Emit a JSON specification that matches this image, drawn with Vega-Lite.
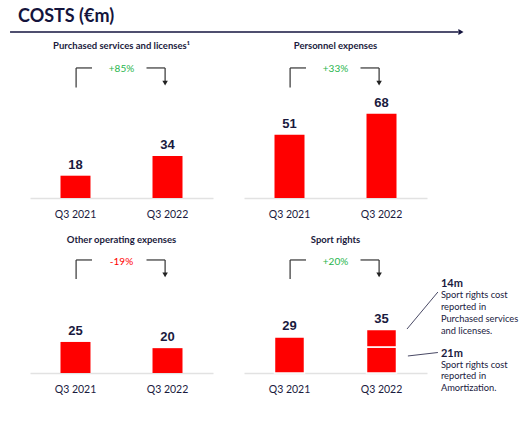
{
  "$schema": "https://vega.github.io/schema/vega-lite/v6.json",
  "background": "white",
  "padding": {"left": 9, "top": 7, "right": 3, "bottom": 5},
  "datasets": {
    "costs": [
      {"panel": "Purchased services and licenses¹", "period": "Q3 2021", "part": "Total", "value": 18},
      {"panel": "Purchased services and licenses¹", "period": "Q3 2022", "part": "Total", "value": 34},
      {"panel": "Personnel expenses", "period": "Q3 2021", "part": "Total", "value": 51},
      {"panel": "Personnel expenses", "period": "Q3 2022", "part": "Total", "value": 68},
      {"panel": "Other operating expenses", "period": "Q3 2021", "part": "Total", "value": 25},
      {"panel": "Other operating expenses", "period": "Q3 2022", "part": "Total", "value": 20},
      {"panel": "Sport rights", "period": "Q3 2021", "part": "Total", "value": 29},
      {"panel": "Sport rights", "period": "Q3 2022", "part": "Amortization", "value": 21},
      {"panel": "Sport rights", "period": "Q3 2022", "part": "Purchased services and licenses", "value": 14}
    ],
    "changes": [
      {"panel": "Purchased services and licenses¹", "change": "+85%"},
      {"panel": "Personnel expenses", "change": "+33%"},
      {"panel": "Other operating expenses", "change": "-19%"},
      {"panel": "Sport rights", "change": "+20%"}
    ],
    "notes": [
      {"part": "Purchased services and licenses", "amount": "14m", "desc": ["Sport rights cost", "reported in", "Purchased services", "and licenses."]},
      {"part": "Amortization", "amount": "21m", "desc": ["Sport rights cost", "reported in", "Amortization."]}
    ]
  },
  "config": {
    "view": {"stroke": null},
    "font": "Lato",
    "title": {"font": "Lato", "fontSize": 9.5, "fontWeight": "bold", "color": "#1b1b3d", "baseline": "alphabetic", "anchor": "middle", "frame": "group"},
    "axisX": {"domainColor": "#e2e2e2", "domainWidth": 1.5, "ticks": false, "labelFont": "Lato", "labelFontSize": 10.5, "labelColor": "#1a1a3e", "labelPadding": 11, "labelAngle": 0, "grid": false, "title": null}
  },
  "bounds": "flush",
  "columns": 2,
  "spacing": {"row": 31, "column": 31},
  "concat": [
    {
      "width": 183,
      "height": 5,
      "title": {"text": "COSTS (€m)", "anchor": "start", "frame": "group", "fontSize": 18, "fontWeight": "bold", "dx": -12, "offset": 1.5, "color": "#14143c"},
      "data": {"values": [{}]},
      "layer": [
        {
          "mark": {"type": "rule", "color": "#15153f", "strokeWidth": 1.5},
          "encoding": {
            "x": {"datum": -0.109, "type": "quantitative", "scale": {"domain": [0, 1], "nice": false}, "axis": null},
            "x2": {"datum": 2.34},
            "y": {"datum": 0, "type": "quantitative", "scale": {"domain": [0, 1], "nice": false}, "axis": null}
          }
        },
        {
          "mark": {"type": "point", "shape": "triangle-right", "filled": true, "size": 35, "color": "#15153f", "opacity": 1},
          "encoding": {
            "x": {"datum": 2.355, "type": "quantitative"},
            "y": {"datum": 0, "type": "quantitative"}
          }
        }
      ]
    },
    {
      "width": 183,
      "height": 5,
      "data": {"values": []},
      "mark": "point",
      "encoding": {}
    },
    {
      "width": 183,
      "height": 161,
      "title": {"text": "Purchased services and licenses¹", "offset": 12.5},
      "layer": [
        {
          "data": {"name": "costs"},
          "transform": [{"filter": {"field": "panel", "equal": "Purchased services and licenses¹"}}],
          "mark": {"type": "bar", "color": "#ff0000"},
          "encoding": {
            "x": {"field": "period", "type": "nominal", "scale": {"paddingInner": 0.674, "paddingOuter": 0.3315}, "axis": {"offset": -26}},
            "y": {"field": "value", "type": "quantitative", "scale": {"domain": [-21, 109], "nice": false}, "axis": null}
          }
        },
        {
          "data": {"name": "costs"},
          "transform": [{"filter": {"field": "panel", "equal": "Purchased services and licenses¹"}}, {"aggregate": [{"op": "sum", "field": "value", "as": "total"}], "groupby": ["period"]}],
          "mark": {"type": "text", "font": "Liberation Sans", "fontWeight": "bold", "fontSize": 13, "color": "#1a1a3e", "baseline": "alphabetic", "dy": -7},
          "encoding": {
            "x": {"field": "period", "type": "nominal"},
            "y": {"field": "total", "type": "quantitative"},
            "text": {"field": "total", "type": "quantitative"}
          }
        },
        {
          "data": {"name": "changes"},
          "transform": [{"filter": {"field": "panel", "equal": "Purchased services and licenses¹"}}],
          "layer": [
            {"mark": {"type": "rule", "color": "#333333", "strokeWidth": 1.2}, "encoding": {"x": {"datum": "Q3 2021", "bandPosition": 0.52}, "y": {"datum": 89.2, "type": "quantitative"}, "y2": {"datum": 105}}},
            {"mark": {"type": "rule", "color": "#333333", "strokeWidth": 1.2}, "encoding": {"x": {"datum": "Q3 2021", "bandPosition": 0.52}, "x2": {"datum": "Q3 2021", "bandPosition": 1.05}, "y": {"datum": 105, "type": "quantitative"}}},
            {"mark": {"type": "rule", "color": "#333333", "strokeWidth": 1.2}, "encoding": {"x": {"datum": "Q3 2022", "bandPosition": -0.2}, "x2": {"datum": "Q3 2022", "bandPosition": 0.42}, "y": {"datum": 105, "type": "quantitative"}}},
            {"mark": {"type": "rule", "color": "#333333", "strokeWidth": 1.2}, "encoding": {"x": {"datum": "Q3 2022", "bandPosition": 0.42}, "y": {"datum": 105, "type": "quantitative"}, "y2": {"datum": 93}}},
            {"mark": {"type": "point", "shape": "triangle-down", "filled": true, "size": 30, "color": "#222222", "opacity": 1}, "encoding": {"x": {"datum": "Q3 2022", "bandPosition": 0.42}, "y": {"datum": 92.7, "type": "quantitative"}}},
            {"mark": {"type": "text", "fontSize": 10, "color": "#27b54d", "baseline": "middle"}, "encoding": {"y": {"datum": 104.5, "type": "quantitative"}, "text": {"field": "change"}}}
          ]
        }
      ]
    },
    {
      "width": 183,
      "height": 161,
      "title": {"text": "Personnel expenses", "offset": 12.5},
      "layer": [
        {
          "data": {"name": "costs"},
          "transform": [{"filter": {"field": "panel", "equal": "Personnel expenses"}}],
          "mark": {"type": "bar", "color": "#ff0000"},
          "encoding": {
            "x": {"field": "period", "type": "nominal", "scale": {"paddingInner": 0.674, "paddingOuter": 0.3315}, "axis": {"offset": -26}},
            "y": {"field": "value", "type": "quantitative", "scale": {"domain": [-21, 109], "nice": false}, "axis": null}
          }
        },
        {
          "data": {"name": "costs"},
          "transform": [{"filter": {"field": "panel", "equal": "Personnel expenses"}}, {"aggregate": [{"op": "sum", "field": "value", "as": "total"}], "groupby": ["period"]}],
          "mark": {"type": "text", "font": "Liberation Sans", "fontWeight": "bold", "fontSize": 13, "color": "#1a1a3e", "baseline": "alphabetic", "dy": -7},
          "encoding": {
            "x": {"field": "period", "type": "nominal"},
            "y": {"field": "total", "type": "quantitative"},
            "text": {"field": "total", "type": "quantitative"}
          }
        },
        {
          "data": {"name": "changes"},
          "transform": [{"filter": {"field": "panel", "equal": "Personnel expenses"}}],
          "layer": [
            {"mark": {"type": "rule", "color": "#333333", "strokeWidth": 1.2}, "encoding": {"x": {"datum": "Q3 2021", "bandPosition": 0.52}, "y": {"datum": 89.2, "type": "quantitative"}, "y2": {"datum": 105}}},
            {"mark": {"type": "rule", "color": "#333333", "strokeWidth": 1.2}, "encoding": {"x": {"datum": "Q3 2021", "bandPosition": 0.52}, "x2": {"datum": "Q3 2021", "bandPosition": 1.05}, "y": {"datum": 105, "type": "quantitative"}}},
            {"mark": {"type": "rule", "color": "#333333", "strokeWidth": 1.2}, "encoding": {"x": {"datum": "Q3 2022", "bandPosition": -0.2}, "x2": {"datum": "Q3 2022", "bandPosition": 0.42}, "y": {"datum": 105, "type": "quantitative"}}},
            {"mark": {"type": "rule", "color": "#333333", "strokeWidth": 1.2}, "encoding": {"x": {"datum": "Q3 2022", "bandPosition": 0.42}, "y": {"datum": 105, "type": "quantitative"}, "y2": {"datum": 93}}},
            {"mark": {"type": "point", "shape": "triangle-down", "filled": true, "size": 30, "color": "#222222", "opacity": 1}, "encoding": {"x": {"datum": "Q3 2022", "bandPosition": 0.42}, "y": {"datum": 92.7, "type": "quantitative"}}},
            {"mark": {"type": "text", "fontSize": 10, "color": "#27b54d", "baseline": "middle"}, "encoding": {"y": {"datum": 104.5, "type": "quantitative"}, "text": {"field": "change"}}}
          ]
        }
      ]
    },
    {
      "width": 183,
      "height": 118,
      "title": {"text": "Other operating expenses", "offset": 10.5},
      "layer": [
        {
          "data": {"name": "costs"},
          "transform": [{"filter": {"field": "panel", "equal": "Other operating expenses"}}],
          "mark": {"type": "bar", "color": "#ff0000"},
          "encoding": {
            "x": {"field": "period", "type": "nominal", "scale": {"paddingInner": 0.674, "paddingOuter": 0.3315}, "axis": {}},
            "y": {"field": "value", "type": "quantitative", "scale": {"domain": [0, 95], "nice": false}, "axis": null}
          }
        },
        {
          "data": {"name": "costs"},
          "transform": [{"filter": {"field": "panel", "equal": "Other operating expenses"}}, {"aggregate": [{"op": "sum", "field": "value", "as": "total"}], "groupby": ["period"]}],
          "mark": {"type": "text", "font": "Liberation Sans", "fontWeight": "bold", "fontSize": 13, "color": "#1a1a3e", "baseline": "alphabetic", "dy": -7},
          "encoding": {
            "x": {"field": "period", "type": "nominal"},
            "y": {"field": "total", "type": "quantitative"},
            "text": {"field": "total", "type": "quantitative"}
          }
        },
        {
          "data": {"name": "changes"},
          "transform": [{"filter": {"field": "panel", "equal": "Other operating expenses"}}],
          "layer": [
            {"mark": {"type": "rule", "color": "#333333", "strokeWidth": 1.2}, "encoding": {"x": {"datum": "Q3 2021", "bandPosition": 0.52}, "y": {"datum": 75.7, "type": "quantitative"}, "y2": {"datum": 91}}},
            {"mark": {"type": "rule", "color": "#333333", "strokeWidth": 1.2}, "encoding": {"x": {"datum": "Q3 2021", "bandPosition": 0.52}, "x2": {"datum": "Q3 2021", "bandPosition": 1.05}, "y": {"datum": 91, "type": "quantitative"}}},
            {"mark": {"type": "rule", "color": "#333333", "strokeWidth": 1.2}, "encoding": {"x": {"datum": "Q3 2022", "bandPosition": -0.2}, "x2": {"datum": "Q3 2022", "bandPosition": 0.42}, "y": {"datum": 91, "type": "quantitative"}}},
            {"mark": {"type": "rule", "color": "#333333", "strokeWidth": 1.2}, "encoding": {"x": {"datum": "Q3 2022", "bandPosition": 0.42}, "y": {"datum": 91, "type": "quantitative"}, "y2": {"datum": 79.5}}},
            {"mark": {"type": "point", "shape": "triangle-down", "filled": true, "size": 30, "color": "#222222", "opacity": 1}, "encoding": {"x": {"datum": "Q3 2022", "bandPosition": 0.42}, "y": {"datum": 79, "type": "quantitative"}}},
            {"mark": {"type": "text", "fontSize": 10, "color": "#ff0000", "baseline": "middle"}, "encoding": {"y": {"datum": 89.4, "type": "quantitative"}, "text": {"field": "change"}}}
          ]
        }
      ]
    },
    {
      "width": 183,
      "height": 118,
      "title": {"text": "Sport rights", "offset": 10.5},
      "layer": [
        {
          "data": {"name": "costs"},
          "transform": [{"filter": {"field": "panel", "equal": "Sport rights"}}],
          "mark": {"type": "bar", "color": "#ff0000", "stroke": "white", "strokeWidth": 1.5},
          "encoding": {
            "x": {"field": "period", "type": "nominal", "scale": {"paddingInner": 0.674, "paddingOuter": 0.3315}, "axis": {}},
            "y": {"field": "value", "type": "quantitative", "scale": {"domain": [0, 95], "nice": false}, "axis": null},
            "detail": {"field": "part"},
            "order": {"field": "part", "sort": "ascending"}
          }
        },
        {
          "data": {"name": "costs"},
          "transform": [{"filter": {"field": "panel", "equal": "Sport rights"}}, {"aggregate": [{"op": "sum", "field": "value", "as": "total"}], "groupby": ["period"]}],
          "mark": {"type": "text", "font": "Liberation Sans", "fontWeight": "bold", "fontSize": 13, "color": "#1a1a3e", "baseline": "alphabetic", "dy": -7},
          "encoding": {
            "x": {"field": "period", "type": "nominal"},
            "y": {"field": "total", "type": "quantitative"},
            "text": {"field": "total", "type": "quantitative"}
          }
        },
        {
          "data": {"name": "changes"},
          "transform": [{"filter": {"field": "panel", "equal": "Sport rights"}}],
          "layer": [
            {"mark": {"type": "rule", "color": "#333333", "strokeWidth": 1.2}, "encoding": {"x": {"datum": "Q3 2021", "bandPosition": 0.52}, "y": {"datum": 75.7, "type": "quantitative"}, "y2": {"datum": 91}}},
            {"mark": {"type": "rule", "color": "#333333", "strokeWidth": 1.2}, "encoding": {"x": {"datum": "Q3 2021", "bandPosition": 0.52}, "x2": {"datum": "Q3 2021", "bandPosition": 1.05}, "y": {"datum": 91, "type": "quantitative"}}},
            {"mark": {"type": "rule", "color": "#333333", "strokeWidth": 1.2}, "encoding": {"x": {"datum": "Q3 2022", "bandPosition": -0.2}, "x2": {"datum": "Q3 2022", "bandPosition": 0.42}, "y": {"datum": 91, "type": "quantitative"}}},
            {"mark": {"type": "rule", "color": "#333333", "strokeWidth": 1.2}, "encoding": {"x": {"datum": "Q3 2022", "bandPosition": 0.42}, "y": {"datum": 91, "type": "quantitative"}, "y2": {"datum": 79.5}}},
            {"mark": {"type": "point", "shape": "triangle-down", "filled": true, "size": 30, "color": "#222222", "opacity": 1}, "encoding": {"x": {"datum": "Q3 2022", "bandPosition": 0.42}, "y": {"datum": 79, "type": "quantitative"}}},
            {"mark": {"type": "text", "fontSize": 10, "color": "#27b54d", "baseline": "middle"}, "encoding": {"y": {"datum": 89.4, "type": "quantitative"}, "text": {"field": "change"}}}
          ]
        },
        {
          "data": {"name": "notes"},
          "transform": [{"filter": {"field": "part", "equal": "Purchased services and licenses"}}],
          "layer": [
            {"mark": {"type": "rule", "color": "#1a1a3e", "strokeWidth": 0.8}, "encoding": {"x": {"datum": "Q3 2022", "bandPosition": 1.35}, "x2": {"datum": "Q3 2022", "bandPosition": 2.38}, "y": {"datum": 35.4, "type": "quantitative"}, "y2": {"datum": 65.2}}},
            {"mark": {"type": "text", "align": "left", "baseline": "alphabetic", "fontSize": 11, "fontWeight": "bold", "color": "#1a1a3e"}, "encoding": {"x": {"datum": "Q3 2022", "bandPosition": 2.48}, "y": {"datum": 69.2, "type": "quantitative"}, "text": {"field": "amount"}}},
            {"mark": {"type": "text", "align": "left", "baseline": "alphabetic", "fontSize": 9.3, "lineHeight": 11.7, "color": "#1a1a3e"}, "encoding": {"x": {"datum": "Q3 2022", "bandPosition": 2.48}, "y": {"datum": 60, "type": "quantitative"}, "text": {"field": "desc"}}}
          ]
        },
        {
          "data": {"name": "notes"},
          "transform": [{"filter": {"field": "part", "equal": "Amortization"}}],
          "layer": [
            {"mark": {"type": "rule", "color": "#1a1a3e", "strokeWidth": 0.8}, "encoding": {"x": {"datum": "Q3 2022", "bandPosition": 1.38}, "x2": {"datum": "Q3 2022", "bandPosition": 2.38}, "y": {"datum": 13.7, "type": "quantitative"}, "y2": {"datum": 16.5}}},
            {"mark": {"type": "text", "align": "left", "baseline": "alphabetic", "fontSize": 11, "fontWeight": "bold", "color": "#1a1a3e"}, "encoding": {"x": {"datum": "Q3 2022", "bandPosition": 2.48}, "y": {"datum": 12.9, "type": "quantitative"}, "text": {"field": "amount"}}},
            {"mark": {"type": "text", "align": "left", "baseline": "alphabetic", "fontSize": 9.3, "lineHeight": 11.7, "color": "#1a1a3e"}, "encoding": {"x": {"datum": "Q3 2022", "bandPosition": 2.48}, "y": {"datum": 4.4, "type": "quantitative"}, "text": {"field": "desc"}}}
          ]
        }
      ]
    }
  ]
}
